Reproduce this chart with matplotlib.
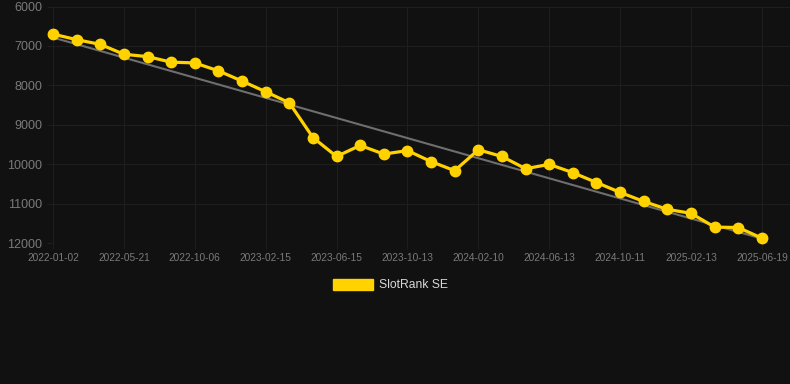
import matplotlib.pyplot as plt
import numpy as np

# rank per snapshot (lower on chart = worse rank)
rank = [6700, 6840, 6960, 7210, 7270, 7410, 7430, 7630, 7890, 8160,
        8440, 9320, 9800, 9520, 9740, 9650, 9930, 10160, 9630, 9800,
        10110, 10000, 10210, 10460, 10710, 10940, 11140, 11240, 11590, 11600,
        11870]
tick_labels = ["2022-01-02", "2022-05-21", "2022-10-06", "2023-02-15",
               "2023-06-15", "2023-10-13", "2024-02-10", "2024-06-13",
               "2024-10-11", "2025-02-13", "2025-06-19"]
y_ticks = [6000, 7000, 8000, 9000, 10000, 11000, 12000]

bg = "#111111"
gold = "#FFD200"

plt.rcParams['font.family'] = ['Liberation Sans', 'DejaVu Sans']

x = np.arange(len(rank))
# linear trend through the series
k, b = np.polyfit(x, rank, 1)

fig = plt.figure(figsize=(7.9, 3.84), dpi=100, facecolor=bg)
ax = fig.add_axes([53/790, 1 - 243.3/384, (790-53)/790, (243.3-6.5)/384])
ax.set_facecolor(bg)

ax.plot(x, k*x + b, color="#6e6e6e", lw=1.5, zorder=2)
ax.plot(x, rank, color=gold, lw=2.3, marker="o", ms=7.5, zorder=3,
        clip_on=False)

ax.set_xlim(0, (790-53)/23.63)
ax.set_ylim(12000, 6000)
ax.set_yticks(y_ticks)
ax.set_xticks(x[::3])
ax.set_xticklabels(tick_labels)
ax.grid(True, color="#1e1e1e", lw=0.8)
ax.tick_params(axis="y", colors="#1e1e1e", labelcolor="#7a7a7a",
               labelsize=9, length=4, pad=4)
ax.tick_params(axis="x", colors="#1e1e1e", labelcolor="#7a7a7a",
               labelsize=7.3, length=4, pad=3)
for s in ax.spines.values():
    s.set_visible(False)

# legend swatch and label
fig.patches.append(plt.Rectangle((333/790, 1 - 290/384), 40/790, 11/384,
                                 transform=fig.transFigure, color=gold))
fig.text(379/790, 1 - 285/384, "SlotRank SE", color="#d8d8d8",
         fontsize=8.7, va="center", ha="left")

fig.savefig("out.png", dpi=100, facecolor=bg)
